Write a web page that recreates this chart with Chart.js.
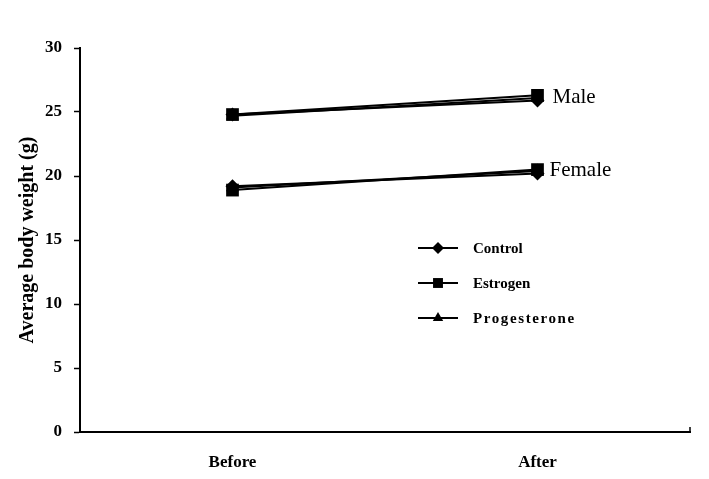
<!DOCTYPE html>
<html>
<head>
<meta charset="utf-8">
<script src="https://cdn.jsdelivr.net/npm/chart.js@4/dist/chart.umd.min.js"></script>
<style>
html,body{margin:0;padding:0;background:#fff;}
#wrap{width:709px;height:479px;position:relative;}
</style>
</head>
<body>
<div id="wrap"><canvas id="c" width="709" height="479"></canvas></div>
<script>
const categories = ["Before", "After"];
const yTicks = [0, 5, 10, 15, 20, 25, 30];
const maleControl = [24.8, 25.9];
const maleEstrogen = [24.8, 26.3];
const maleProgesterone = [24.7, 26.1];
const femaleControl = [19.2, 20.2];
const femaleEstrogen = [18.9, 20.5];
const femaleProgesterone = [19.1, 20.4];
const groupLabels = ["Male", "Female"];
const legendNames = ["Control", "Estrogen", "Progesterone"];
const legendStyles = ["rectRot", "rect", "triangle"];

const radii = {rectRot: 7, rect: 9, triangle: 7.5};
function ds(label, data, style) {
  return {
    label, data,
    borderColor: '#000', backgroundColor: '#000',
    borderWidth: 2, pointStyle: style,
    pointRadius: radii[style],
    pointBorderWidth: 0, fill: false, tension: 0
  };
}

const SERIF = '"Liberation Serif", "Times New Roman", serif';

const overlay = {
  id: 'overlay',
  afterDraw(chart) {
    const ctx = chart.ctx;
    const xs = chart.scales.x, ys = chart.scales.y;
    ctx.save();
    ctx.strokeStyle = '#000'; ctx.lineWidth = 1.5;
    ctx.beginPath();
    ctx.moveTo(xs.right, ys.bottom);
    ctx.lineTo(xs.right, ys.bottom - 5);
    ctx.stroke();
    ctx.fillStyle = '#000';
    ctx.font = '21px ' + SERIF;
    ctx.textBaseline = 'middle';
    ctx.textAlign = 'left';
    const gx = xs.getPixelForValue(1);
    ctx.fillText(groupLabels[0], gx + 15, ys.getPixelForValue(maleEstrogen[1]) + 2);
    ctx.fillText(groupLabels[1], gx + 12, ys.getPixelForValue(femaleEstrogen[1]) + 1);
    const lx0 = 418, lx1 = 458, ly0 = 248, step = 35;
    ctx.font = 'bold 15px ' + SERIF;
    legendNames.forEach((name, i) => {
      const y = ly0 + i * step;
      ctx.lineWidth = 2;
      ctx.beginPath(); ctx.moveTo(lx0, y); ctx.lineTo(lx1, y); ctx.stroke();
      Chart.helpers.drawPoint(ctx, {pointStyle: legendStyles[i], radius: legendStyles[i] === 'rect' ? 7 : 6, borderWidth: 0}, (lx0 + lx1) / 2, y);
      ctx.letterSpacing = i === 2 ? '1.6px' : '0px';
      ctx.fillText(name, 473, y + 1);
    });
    ctx.letterSpacing = '0px';
    ctx.restore();
  }
};

new Chart(document.getElementById('c'), {
  type: 'line',
  data: {
    labels: categories,
    datasets: [
      ds('Male Estrogen', maleEstrogen, 'rect'),
      ds('Male Progesterone', maleProgesterone, 'triangle'),
      ds('Male Control', maleControl, 'rectRot'),
      ds('Female Estrogen', femaleEstrogen, 'rect'),
      ds('Female Progesterone', femaleProgesterone, 'triangle'),
      ds('Female Control', femaleControl, 'rectRot')
    ]
  },
  options: {
    responsive: false,
    animation: false,
    devicePixelRatio: 1,
    layout: {padding: {left: 0, right: 19, top: 48, bottom: 0}},
    plugins: {legend: {display: false}, tooltip: {enabled: false}},
    scales: {
      x: {
        offset: true,
        grid: {display: false, offset: true},
        border: {display: true, color: '#000', width: 2},
        ticks: {
          color: '#000', padding: 12,
          font: {family: SERIF, size: 17, weight: 'bold'}
        },
        afterFit(s) { s.height = 47; }
      },
      y: {
        min: 0, max: 30,
        afterBuildTicks(s) { s.ticks = yTicks.map(v => ({value: v})); },
        grid: {display: true, drawOnChartArea: false, drawTicks: true, tickLength: 6, color: '#000', tickColor: '#000', tickWidth: 1.5},
        border: {display: true, color: '#000', width: 2},
        ticks: {
          color: '#000', padding: 12,
          font: {family: SERIF, size: 17, weight: 'bold'}
        },
        title: {
          display: true, text: 'Average body weight (g)', color: '#000',
          padding: {top: 16, bottom: 0},
          font: {family: SERIF, size: 20, weight: 'bold'}
        },
        afterFit(s) { s.width = 80; }
      }
    }
  },
  plugins: [overlay]
});
</script>
</body>
</html>
